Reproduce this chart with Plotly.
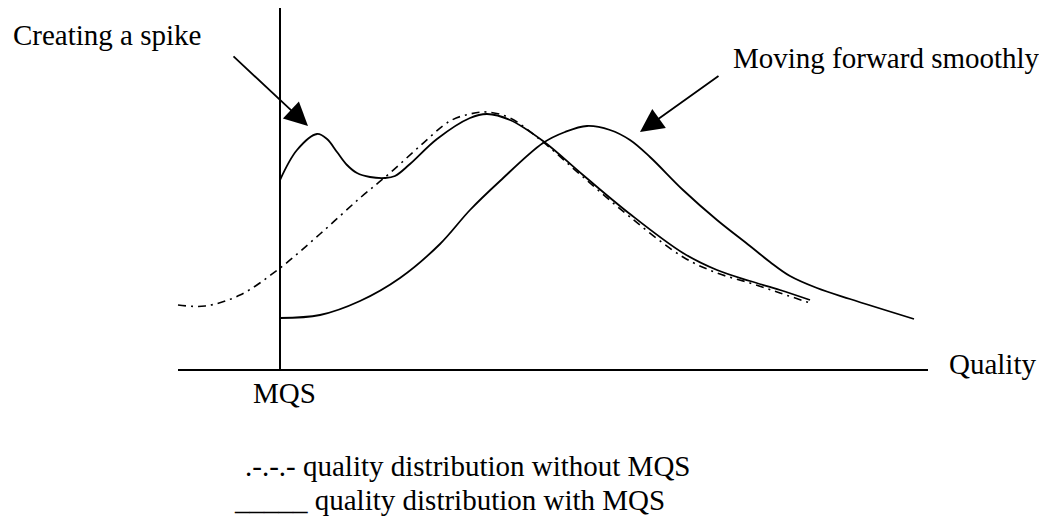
import plotly.graph_objects as go

# ---- data (x = quality position, y = height above the quality axis) ----
without_x = [178, 205, 240, 280, 320, 360, 390, 420, 450, 470, 487, 510, 543, 583, 630, 683, 717, 750, 780, 810]
without_y = [65, 64, 75, 102, 136, 172, 197, 224, 249, 256, 258, 252, 228, 193, 153, 113, 97, 87, 77, 67]

spike_x = [280, 297, 317, 327, 337, 347, 357, 370, 385, 395, 410, 437, 470, 487, 510, 543, 583, 630, 683, 717, 750, 780, 810]
spike_y = [190, 220, 236, 231, 218, 205, 197, 193, 192, 194, 206, 231, 252, 256, 250, 229, 195, 156, 117, 100, 89, 80, 70]

shift_x = [280, 320, 360, 400, 440, 470, 500, 543, 565, 587, 610, 630, 650, 683, 717, 750, 770, 790, 817, 850, 914]
shift_y = [52, 55, 69, 92, 126, 160, 189, 227, 238, 244, 240, 230, 213, 180, 150, 124, 108, 94, 82, 71, 51]

axis_x = [178, 928]
axis_y = [0, 0]
mqs_x = [280, 280]
mqs_y = [0, 364]

FONT = "Liberation Serif, Times New Roman, serif"
FS = 29

fig = go.Figure()

fig.add_trace(go.Scatter(x=axis_x, y=axis_y, mode="lines",
                         line=dict(color="black", width=2), hoverinfo="skip"))
fig.add_trace(go.Scatter(x=mqs_x, y=mqs_y, mode="lines",
                         line=dict(color="black", width=2), hoverinfo="skip"))
fig.add_trace(go.Scatter(x=without_x, y=without_y, mode="lines",
                         line=dict(color="black", width=1.6, shape="spline", smoothing=1.0,
                                   dash="8px,5px,2px,5px"), hoverinfo="skip"))
fig.add_trace(go.Scatter(x=spike_x, y=spike_y, mode="lines",
                         line=dict(color="black", width=1.8, shape="spline", smoothing=1.0),
                         hoverinfo="skip"))
fig.add_trace(go.Scatter(x=shift_x, y=shift_y, mode="lines",
                         line=dict(color="black", width=1.8, shape="spline", smoothing=1.0),
                         hoverinfo="skip"))

def txt(x, y, s):
    fig.add_annotation(x=x, y=y, text=s, showarrow=False, xanchor="left", yanchor="middle",
                       font=dict(family=FONT, size=FS, color="black"))

txt(11, 335, "Creating a spike")
txt(731, 312, "Moving forward smoothly")
txt(947, 6, "Quality")
txt(251, -23, "MQS")
txt(243, -96, ".-.-.- quality distribution without MQS")
txt(232, -130, "_____ quality distribution with MQS")

for (tx, ty, hx, hy) in [(232, 315, 308, 244), (720, 295, 640, 238)]:
    fig.add_annotation(x=hx, y=hy, ax=tx, ay=ty, axref="x", ayref="y", xref="x", yref="y",
                       text="", showarrow=True, arrowhead=2, arrowsize=2.6, arrowwidth=1.8,
                       arrowcolor="black", standoff=0)

# the page body has an 8px margin: size the figure and ranges so data units = window pixels
fig.update_layout(
    width=1039, height=513, autosize=False,
    margin=dict(l=0, r=0, t=0, b=0),
    paper_bgcolor="white", plot_bgcolor="white",
    showlegend=False, hovermode=False,
    xaxis=dict(range=[8, 1047], visible=False, fixedrange=True),
    yaxis=dict(range=[-151, 362], visible=False, fixedrange=True),
)

fig.write_html("out.html", config={"displayModeBar": False})
